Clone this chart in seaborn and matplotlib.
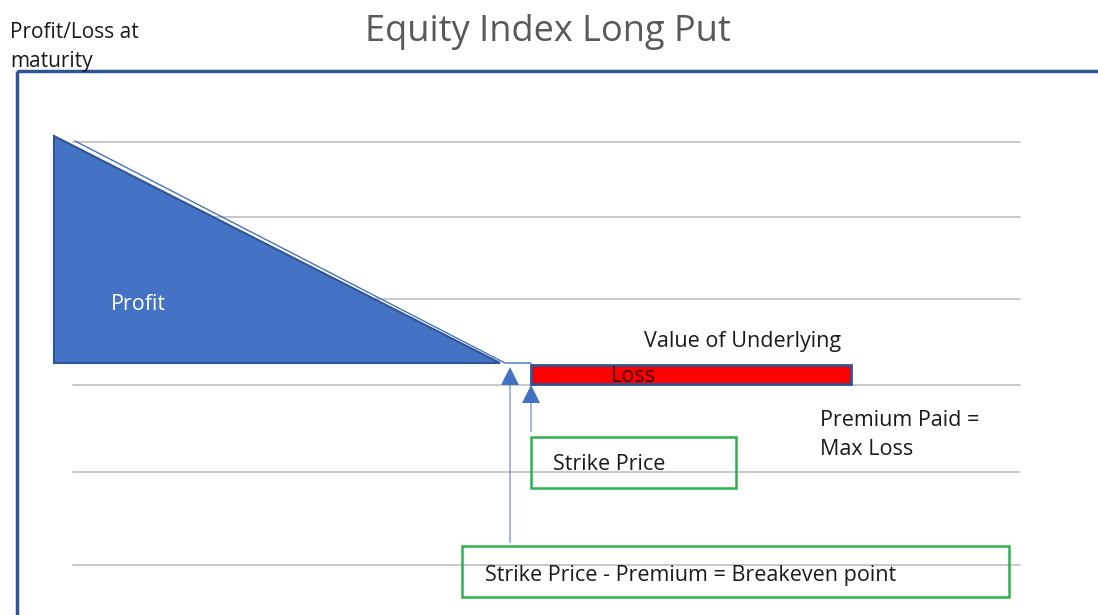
import numpy as np
import pandas as pd
import matplotlib.pyplot as plt
import seaborn as sns
from matplotlib.patches import Polygon, Rectangle, FancyArrow

# ==========================================================
# Diagram values (canvas units, y grows downward)
# ==========================================================

grid_levels = [142, 217, 299, 385, 472, 565]
grid_x = [73, 1020]

profit_x = [54, 54, 500]
profit_y = [136, 363, 363]

payoff_x = [75, 505, 531]
payoff_y = [141, 363, 363]

loss_x = [531, 851]
loss_y = [365, 384]

breakeven_x = 510
strike_x = 531
arrow_tail = [543, 432]
arrow_head = [367, 385]

strike_box = [531, 437, 736, 488]
breakeven_box = [462, 546, 1009, 597]

frame = [17, 71, 1110, 630]

labels = {
    "title": "Equity Index Long Put",
    "ylabel": "Profit/Loss at\nmaturity",
    "profit": "Profit",
    "loss": "Loss",
    "underlying": "Value of Underlying",
    "premium": "Premium Paid =\nMax Loss",
    "strike": "Strike Price",
    "breakeven": "Strike Price - Premium = Breakeven point",
}

blue = "#4472C4"
dark_blue = "#2F5597"
green = "#2DB24D"

# ==========================================================
# Figure
# ==========================================================

sns.set_theme(style="white")
plt.rcParams["font.family"] = ["Open Sans", "DejaVu Sans"]

fig = plt.figure(figsize=(10.98, 6.15), dpi=100)
ax = fig.add_axes([0, 0, 1, 1])
ax.set_xlim(0, 1098)
ax.set_ylim(615, 0)
ax.axis("off")

# gridlines
for g in grid_levels:
    sns.lineplot(x=grid_x, y=[g, g], ax=ax, color="#BFBFBF", lw=1.2, zorder=0.5)

# outer frame
ax.add_patch(Rectangle((frame[0], frame[1]), frame[2] - frame[0], frame[3] - frame[1],
                       fill=False, ec=dark_blue, lw=2.5, zorder=3))

# profit triangle
ax.add_patch(Polygon(np.column_stack([profit_x, profit_y]), closed=True,
                     fc=blue, ec=dark_blue, lw=1.5, zorder=1))

# payoff line
payoff = pd.DataFrame({"x": payoff_x, "y": payoff_y})
sns.lineplot(data=payoff, x="x", y="y", ax=ax, color=blue, lw=1, sort=False, zorder=1)

# loss bar
ax.add_patch(Rectangle((loss_x[0], loss_y[0]), loss_x[1] - loss_x[0], loss_y[1] - loss_y[0],
                       fc="#FF0000", ec=dark_blue, lw=2, zorder=1))

# arrows
for xa, tail, head in zip([breakeven_x, strike_x], arrow_tail, arrow_head):
    ax.add_patch(FancyArrow(xa, tail, 0, head - tail,
                            width=1, head_width=18, head_length=18,
                            length_includes_head=True, color=blue, lw=0, zorder=2))

# boxes
for b in [strike_box, breakeven_box]:
    ax.add_patch(Rectangle((b[0], b[1]), b[2] - b[0], b[3] - b[1],
                           fill=False, ec=green, lw=1.8, zorder=2))

# texts
ax.text(548, 32, labels["title"], ha="center", va="center", fontsize=26, color="#595959")
ax.text(10, 47, labels["ylabel"], ha="left", va="center", fontsize=15, color="#1A1A1A",
        linespacing=1.45)
ax.text(111, 305, labels["profit"], ha="left", va="center", fontsize=15.5, color="white")
ax.text(611, 376, labels["loss"], ha="left", va="center", fontsize=15.5, color="#3A0000")
ax.text(644, 341, labels["underlying"], ha="left", va="center", fontsize=15.5, color="#1A1A1A")
ax.text(820, 435, labels["premium"], ha="left", va="center", fontsize=15.5, color="#1A1A1A",
        linespacing=1.5)
ax.text(553, 465, labels["strike"], ha="left", va="center", fontsize=15.5, color="#1A1A1A")
ax.text(485, 575, labels["breakeven"], ha="left", va="center", fontsize=15.5, color="#1A1A1A")

plt.savefig("out.png", dpi=100)
